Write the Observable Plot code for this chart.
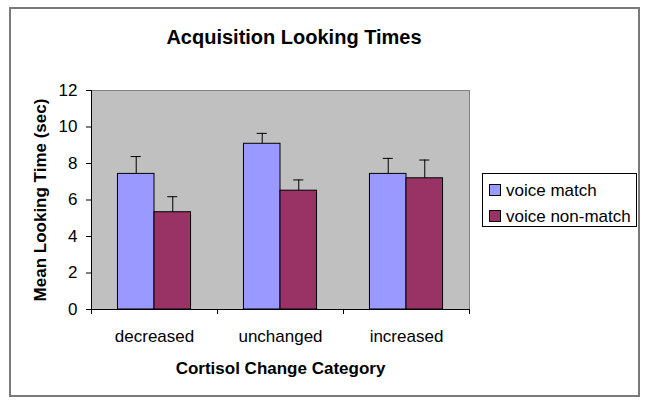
<!DOCTYPE html>
<html>
<head>
<meta charset="utf-8">
<script src="https://cdn.jsdelivr.net/npm/d3@7"></script>
<script src="https://cdn.jsdelivr.net/npm/@observablehq/plot@0.6"></script>
<style>
  html, body { margin: 0; padding: 0; background: #fff; }
  #wrap { position: relative; width: 650px; height: 408px; background: #fff; font-family: "Liberation Sans", Arial, sans-serif; }
  #border { position: absolute; left: 9px; top: 7px; width: 627px; height: 386px; border: 2px solid #7a7a7a; }
  #title { position: absolute; left: 0; width: 588px; top: 26px; text-align: center; font-weight: bold; font-size: 20px; color: #000; }
  #chart { position: absolute; left: 0; top: 0; }
  #legend { position: absolute; left: 482px; top: 173px; width: 153px; height: 52px; border: 1px solid #000; background: #fff; }
  .item { position: absolute; left: 6px; font-size: 17px; line-height: 17px; color: #000; white-space: nowrap; }
  .sw { display: inline-block; width: 10px; height: 10px; border: 1px solid #000; margin-right: 5px; vertical-align: 0px; }
  g[aria-label="x-axis label"] text, g[aria-label="y-axis label"] text { font-weight: bold; }
</style>
</head>
<body>
<div id="wrap">
  <div id="border"></div>
  <div id="title"></div>
  <div id="chart"></div>
  <div id="legend"></div>
</div>
<script>
const titleText = "Acquisition Looking Times";
const xLabel = "Cortisol Change Category";
const yLabel = "Mean Looking Time (sec)";
const categories = ["decreased", "unchanged", "increased"];
const series = ["voice match", "voice non-match"];
const colors = ["#9999FF", "#993366"];
const matchMeans = [7.43, 9.08, 7.43];
const matchTops = [8.38, 9.65, 8.28];
const nonMatchMeans = [5.33, 6.51, 7.19];
const nonMatchTops = [6.18, 7.10, 8.19];
const yTicks = [0, 2, 4, 6, 8, 10, 12];

document.getElementById("title").textContent = titleText;

const data = categories.flatMap((c, i) => [
  {cat: c, i, k: 0, series: series[0], mean: matchMeans[i], top: matchTops[i]},
  {cat: c, i, k: 1, series: series[1], mean: nonMatchMeans[i], top: nonMatchTops[i]}
]);
const barW = 0.29;
const cap = 0.04;
const cx = d => d.i + 0.5 + (d.k - 0.5) * barW;

const chart = Plot.plot({
  width: 650, height: 408,
  marginLeft: 91, marginRight: 181, marginTop: 90, marginBottom: 99,
  style: {fontFamily: "'Liberation Sans', Arial, sans-serif", fontSize: "17px", background: "transparent", color: "#000", overflow: "visible"},
  x: {domain: [0, categories.length], axis: null},
  y: {domain: [0, 12], axis: null},
  color: {domain: series, range: colors},
  marks: [
    Plot.frame({fill: "#C0C0C0", stroke: "#808080"}),
    Plot.rect(data, {x1: d => d.i + 0.5 + (d.k - 1) * barW, x2: d => d.i + 0.5 + d.k * barW, y1: 0, y2: "mean", fill: "series", stroke: "#000", strokeWidth: 1}),
    Plot.ruleX(data, {x: cx, y1: "mean", y2: "top", stroke: "#000", strokeWidth: 1}),
    Plot.ruleY(data, {y: "top", x1: d => cx(d) - cap, x2: d => cx(d) + cap, stroke: "#000", strokeWidth: 1}),
    Plot.ruleX([0], {stroke: "#000"}),
    Plot.ruleY([0], {stroke: "#000"}),
    Plot.axisY({ticks: yTicks, tickSize: 5, tickPadding: 9, label: yLabel, labelAnchor: "center", labelOffset: 58, labelArrow: "none"}),
    Plot.axisX({ticks: d3.range(categories.length + 1), tickSize: 5, tickFormat: () => "", label: null}),
    Plot.axisX({ticks: categories.map((c, i) => i + 0.5), tickSize: 0, tickPadding: 20, tickFormat: v => categories[Math.floor(v)], label: xLabel, labelAnchor: "center", labelOffset: 64, labelArrow: "none"})
  ]
});
document.getElementById("chart").appendChild(chart);

const legend = document.getElementById("legend");
series.forEach((s, j) => {
  const it = document.createElement("div");
  it.className = "item";
  it.style.top = (8 + j * 26) + "px";
  const sw = document.createElement("span");
  sw.className = "sw";
  sw.style.background = colors[j];
  it.appendChild(sw);
  it.appendChild(document.createTextNode(s));
  legend.appendChild(it);
});
</script>
</body>
</html>
